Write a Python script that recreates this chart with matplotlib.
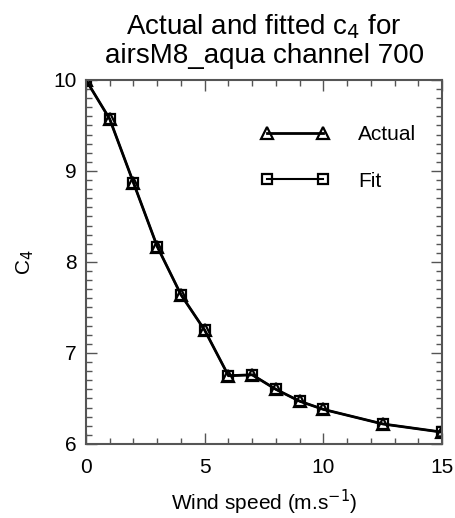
import matplotlib
matplotlib.use("Agg")
import matplotlib.pyplot as plt
from matplotlib.ticker import MultipleLocator

# wind speed (m/s) and c4 values
wind_speed = [0, 1, 2, 3, 4, 5, 6, 7, 8, 9, 10, 12.5, 15]
c4_actual = [10.0, 9.57, 8.87, 8.17, 7.64, 7.25, 6.75, 6.76, 6.60, 6.47, 6.38, 6.22, 6.13]
c4_fit = [10.0, 9.57, 8.87, 8.17, 7.64, 7.25, 6.75, 6.76, 6.60, 6.47, 6.38, 6.22, 6.13]

plt.rcParams["font.family"] = ["Liberation Sans", "DejaVu Sans"]

fig = plt.figure(figsize=(4.56, 5.18), dpi=100)
ax = fig.add_axes([0.1886, 0.1429, 0.781, 0.7027])

ax.plot(wind_speed, c4_actual, color="black", lw=2, marker="^", ms=8,
        mfc="none", mew=1.6, label="Actual")
ax.plot(wind_speed, c4_fit, color="black", lw=1.5, marker="s", ms=6.5,
        mfc="none", mew=1.6, label="Fit")

ax.set_xlim(0, 15)
ax.set_ylim(6, 10)
ax.xaxis.set_major_locator(MultipleLocator(5))
ax.xaxis.set_minor_locator(MultipleLocator(1))
ax.yaxis.set_major_locator(MultipleLocator(1))
ax.yaxis.set_minor_locator(MultipleLocator(0.1))
ax.tick_params(which="both", direction="in", top=True, right=True,
               color="#555555", width=1)
ax.tick_params(axis="x", which="major", length=8, labelsize=15, pad=10)
ax.tick_params(axis="y", which="major", length=8, labelsize=15, pad=7)
ax.tick_params(which="minor", length=4)
for s in ax.spines.values():
    s.set_color("#555555")
    s.set_linewidth(1.5)

ax.set_xlabel("Wind speed (m.s$^{-1}$)", fontsize=15, labelpad=8)
ax.set_ylabel("C$_4$", fontsize=15, labelpad=12)
ax.set_title("Actual and fitted c$_4$ for\nairsM8_aqua channel 700",
             fontsize=20, pad=12, linespacing=1.1)

ax.legend(loc="upper left", frameon=False, fontsize=15, numpoints=2,
          handlelength=3.3, handletextpad=1.4, labelspacing=1.3,
          borderpad=0, borderaxespad=0, bbox_to_anchor=(0.49, 0.875))

fig.savefig("out.png", dpi=100)
